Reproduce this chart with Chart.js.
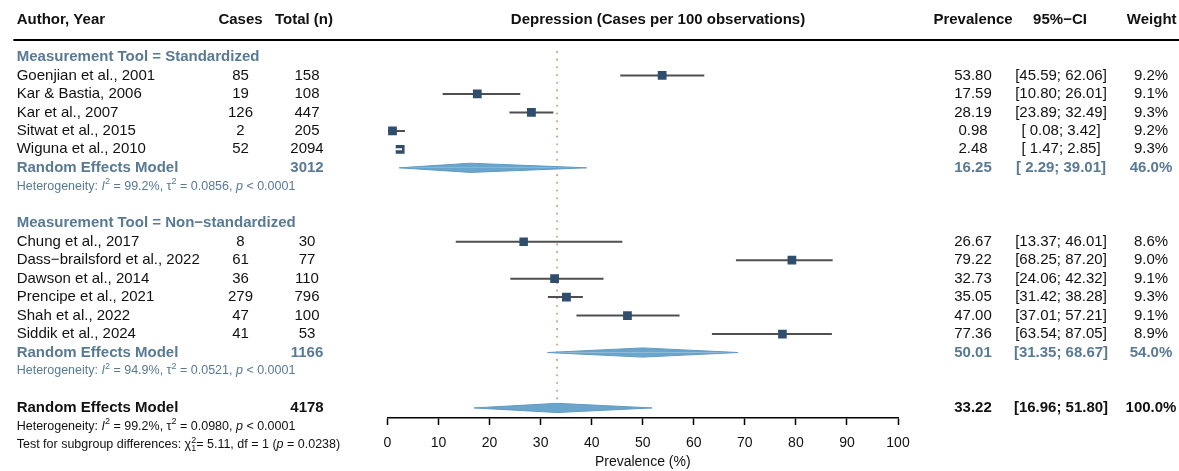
<!DOCTYPE html>
<html><head><meta charset="utf-8">
<script src="https://cdn.jsdelivr.net/npm/chart.js@4.4.1/dist/chart.umd.min.js"></script>
<style>html,body{margin:0;padding:0;background:#fff;}#wrap{width:1179px;height:471px;position:relative;}</style>
</head><body><div id="wrap"><canvas id="c" width="1179" height="471"></canvas></div>
<script>
// ---------- DATA ----------
const authors = ['Goenjian et al., 2001','Kar & Bastia, 2006','Kar et al., 2007','Sitwat et al., 2015','Wiguna et al., 2010',
  'Chung et al., 2017','Dass−brailsford et al., 2022','Dawson et al., 2014','Prencipe et al., 2021','Shah et al., 2022','Siddik et al., 2024'];
const cases = [85,19,126,2,52, 8,61,36,279,47,41];
const totals = [158,108,447,205,2094, 30,77,110,796,100,53];
const prevalence = [53.80,17.59,28.19,0.98,2.48, 26.67,79.22,32.73,35.05,47.00,77.36];
const ciLower = [45.59,10.80,23.89,0.08,1.47, 13.37,68.25,24.06,31.42,37.01,63.54];
const ciUpper = [62.06,26.01,32.49,3.42,2.85, 46.01,87.20,42.32,38.28,57.21,87.05];
const weights = [9.2,9.1,9.3,9.2,9.3, 8.6,9.0,9.1,9.3,9.1,8.9];
const studyRows = [1,2,3,4,5, 10,11,12,13,14,15];

const subgroupNames = ['Measurement Tool = Standardized','Measurement Tool = Non−standardized'];
const subgroupRows = [0,9];

const pooledLabel = 'Random Effects Model';
const pooledTotals = [3012,1166,4178];
const pooledEst = [16.25,50.01,33.22];
const pooledLower = [2.29,31.35,16.96];
const pooledUpper = [39.01,68.67,51.80];
const pooledWeights = [46.0,54.0,100.0];
const pooledRows = [6,16,19];

const hetI2 = ['99.2%','94.9%','99.2%'];
const hetTau2 = ['0.0856','0.0521','0.0980'];
const hetP = ['< 0.0001','< 0.0001','< 0.0001'];
const hetRows = [7,17,20];
const testChi2 = '5.11', testDf = '1', testP = '0.0238', testRow = 21;

const xTicks = [0,10,20,30,40,50,60,70,80,90,100];
const headers = {author:'Author, Year', cases:'Cases', total:'Total (n)', plot:'Depression (Cases per 100 observations)',
  prev:'Prevalence', ci:'95%−CI', weight:'Weight'};

// ---------- STYLE / LAYOUT ----------
const FONT = '"Liberation Sans", Arial, Helvetica, sans-serif';
const ROW0_Y = 57, ROW_H = 18.47, AREA_TOP = 38, AREA_BOTTOM = 418;
const yMin = -(ROW0_Y - AREA_TOP) / ROW_H, yMax = (AREA_BOTTOM - ROW0_Y) / ROW_H;
const REF_TOP = -0.28, REF_BOTTOM = 18.6;
const DIAMOND_HALF = 4.6 / ROW_H;
const SQ_SCALE = 2.9;
const sqSide = w => SQ_SCALE * Math.sqrt(w);
const COL = {author:16.7, cases:240.5, total:307, plotTitle:658, prev:973, ci:1061, weight:1151};
const STEEL = '#587a94', NAVY = '#2f4e6d', CI_COL = '#4f4f4f', DIA_FILL = '#6ba5cc', DIA_EDGE = '#5e9ac3', TXT = '#111';

// ---------- DATASETS ----------
const ciData = [];
studyRows.forEach((r,i)=>{ ciData.push({x:ciLower[i],y:r},{x:ciUpper[i],y:r},{x:NaN,y:NaN}); });
const squareData = studyRows.map((r,i)=>({x:prevalence[i],y:r}));

const datasets = [
  {label:'ref', data:[{x:pooledEst[2],y:REF_TOP},{x:pooledEst[2],y:REF_BOTTOM}], borderColor:'#d39b93', borderWidth:2,
   borderDash:[0.1,7.6], borderCapStyle:'round', pointRadius:0, fill:false, order:6},
  {label:'ci', data:ciData, borderColor:CI_COL, borderWidth:2, pointRadius:0, spanGaps:false, fill:false, order:3},
  {label:'sq', data:squareData, showLine:false, pointStyle:'rect', pointRadius:weights.map(w=>sqSide(w)/(2*Math.SQRT1_2)),
   pointBackgroundColor:NAVY, pointBorderWidth:0, pointHoverRadius:weights.map(w=>sqSide(w)/(2*Math.SQRT1_2)), order:2},
  {label:'inner', data:ciData, borderWidth:2, pointRadius:0, spanGaps:false, fill:false, order:1,
   segment:{borderColor: ctx => (Math.abs(ctx.p1.x-ctx.p0.x) < sqSide(weights[Math.floor(ctx.p0DataIndex/3)]) ? '#ffffff' : 'rgba(0,0,0,0)')}}
];
pooledRows.forEach((r,k)=>{
  [-1,1].forEach(s=>{
    datasets.push({label:'dia'+k+s, data:[{x:pooledLower[k],y:r},{x:pooledEst[k],y:r+s*DIAMOND_HALF},{x:pooledUpper[k],y:r}],
      borderColor:DIA_EDGE, borderWidth:1, backgroundColor:DIA_FILL, pointRadius:0, tension:0, fill:{value:r}, order:4});
  });
});

// ---------- TEXT ----------
function fmtCI(lo,hi){ const a = (lo<10?' ':'')+lo.toFixed(2); return '['+a+'; '+hi.toFixed(2)+']'; }
function txt(ctx,s,x,y,align,size,bold,color){
  ctx.font = (bold?'bold ':'')+size+'px '+FONT; ctx.textAlign = align; ctx.textBaseline='middle'; ctx.fillStyle=color; ctx.fillText(s,x,y);
}
function rich(ctx,x,y,parts,size,color){
  ctx.fillStyle=color; ctx.textBaseline='middle'; ctx.textAlign='left'; let cx=x;
  for(const p of parts){
    if(p.ss){ ctx.font=(size*0.72)+'px '+FONT; ctx.fillText(p.ss[0],cx,y-size*0.38); ctx.fillText(p.ss[1],cx,y+size*0.3);
      cx+=Math.max(ctx.measureText(p.ss[0]).width,ctx.measureText(p.ss[1]).width); continue; }
    ctx.font=(p.i?'italic ':'')+(p.sup?size*0.72:size)+'px '+FONT;
    ctx.fillText(p.t,cx,y+(p.sup?-size*0.38:0)); cx+=ctx.measureText(p.t).width;
  }
}
const textPlugin = {id:'forestText', afterDraw(chart){
  const ctx = chart.ctx, ys = chart.scales.y; const Y = r => ys.getPixelForValue(r);
  ctx.save();
  // header
  const hy = 20;
  txt(ctx,headers.author,COL.author,hy,'left',15,true,TXT);
  txt(ctx,headers.cases,COL.cases,hy,'center',15,true,TXT);
  txt(ctx,headers.total,304,hy,'center',15,true,TXT);
  txt(ctx,headers.plot,COL.plotTitle,hy,'center',15,true,TXT);
  txt(ctx,headers.prev,COL.prev,hy,'center',15,true,TXT);
  txt(ctx,headers.ci,1060,hy,'center',15,true,TXT);
  txt(ctx,headers.weight,1151.7,hy,'center',15,true,TXT);
  ctx.strokeStyle='#000'; ctx.lineWidth=2; ctx.beginPath(); ctx.moveTo(13.3,40); ctx.lineTo(1179,40); ctx.stroke();
  // subgroup labels
  subgroupNames.forEach((s,k)=>txt(ctx,s,COL.author,Y(subgroupRows[k]),'left',15,true,STEEL));
  // studies
  studyRows.forEach((r,i)=>{
    const y=Y(r);
    txt(ctx,authors[i],COL.author,y,'left',15,false,TXT);
    txt(ctx,String(cases[i]),COL.cases,y,'center',15,false,TXT);
    txt(ctx,String(totals[i]),COL.total,y,'center',15,false,TXT);
    txt(ctx,prevalence[i].toFixed(2),COL.prev,y,'center',15,false,TXT);
    txt(ctx,fmtCI(ciLower[i],ciUpper[i]),COL.ci,y,'center',15,false,TXT);
    txt(ctx,weights[i].toFixed(1)+'%',COL.weight,y,'center',15,false,TXT);
  });
  // pooled
  pooledRows.forEach((r,k)=>{
    const y=Y(r), c = k<2?STEEL:TXT;
    txt(ctx,pooledLabel,COL.author,y,'left',15,true,c);
    txt(ctx,String(pooledTotals[k]),COL.total,y,'center',15,true,c);
    txt(ctx,pooledEst[k].toFixed(2),COL.prev,y,'center',15,true,c);
    txt(ctx,fmtCI(pooledLower[k],pooledUpper[k]),COL.ci,y,'center',15,true,c);
    txt(ctx,pooledWeights[k].toFixed(1)+'%',COL.weight,y,'center',15,true,c);
  });
  // heterogeneity
  hetRows.forEach((r,k)=>{
    rich(ctx,COL.author,Y(r),[{t:'Heterogeneity: '},{t:'I',i:true},{t:'2',sup:true},{t:' = '+hetI2[k]+', τ'},{t:'2',sup:true},
      {t:' = '+hetTau2[k]+', '},{t:'p',i:true},{t:' '+hetP[k]}],12.5,k<2?STEEL:TXT);
  });
  rich(ctx,COL.author,Y(testRow),[{t:'Test for subgroup differences: χ'},{ss:['2',testDf]},{t:'= '+testChi2+', df = '+testDf+' ('},
    {t:'p',i:true},{t:' = '+testP+')'}],12.5,TXT);
  ctx.restore();
}};

new Chart(document.getElementById('c'), {
  type:'line',
  data:{datasets},
  options:{
    responsive:false, animation:false, devicePixelRatio:1,
    layout:{padding:{left:387.5, right:1179-898, top:AREA_TOP, bottom:0}},
    plugins:{legend:{display:false}, tooltip:{enabled:false}},
    events:[],
    scales:{
      x:{type:'linear', min:0, max:100,
        afterBuildTicks: s => { s.ticks = xTicks.map(v=>({value:v})); },
        grid:{drawOnChartArea:false, drawTicks:true, tickLength:7, tickColor:'#000', tickWidth:1.5},
        border:{display:true, color:'#000', width:1.5},
        ticks:{font:{size:14,family:FONT}, color:TXT, padding:10, maxRotation:0, autoSkip:false},
        title:{display:true, text:'Prevalence (%)', font:{size:14,family:FONT}, color:TXT, padding:{top:0,bottom:0}},
        afterFit: s => { s.height = 471 - AREA_BOTTOM; }
      },
      y:{type:'linear', display:false, reverse:true, min:yMin, max:yMax}
    }
  },
  plugins:[textPlugin]
});
</script></body></html>
